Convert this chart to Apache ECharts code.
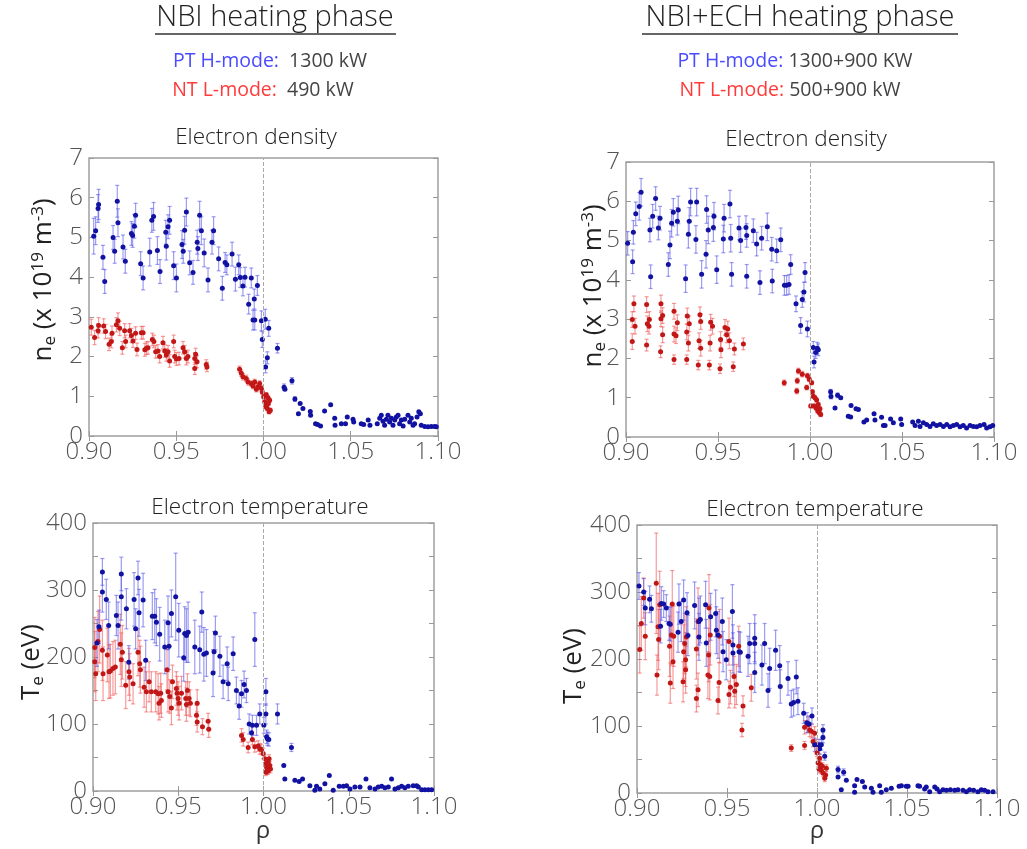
<!DOCTYPE html>
<html><head><meta charset="utf-8">
<script src="https://cdn.jsdelivr.net/npm/echarts@6/dist/echarts.min.js"></script>
<style>html,body{margin:0;padding:0;background:#fff}#c{width:1027px;height:849px}</style>
</head><body><div id="c"></div>
<script>
// ---- axis ticks ----
const xRange = [0.90, 1.10];
const xStep = 0.05;
const neRange = [0, 7];
const teRange = [0, 400];

// ---- texts ----
const phaseTitles = ['NBI heating phase', 'NBI+ECH heating phase'];
const ptPower = ['1300 kW', '1300+900 KW'];
const ntPower = ['490 kW', '500+900 kW'];
const panelTitles = ['Electron density', 'Electron temperature'];

// ---- data: [rho, value, error] ----
const neNbiPT = [[0.9027,5.03,0.45],[0.9038,5.17,0.35],[0.9052,5.73,0.35],[0.9055,5.83,0.38],[0.908,4.5,0.3],[0.909,3.89,0.3],[0.9138,5.0,0.3],[0.9147,4.65,0.3],[0.9162,5.91,0.4],[0.9166,5.37,0.35],[0.9195,4.76,0.3],[0.9208,4.4,0.3],[0.9243,5.1,0.3],[0.925,5.05,0.3],[0.926,5.28,0.3],[0.9267,5.56,0.3],[0.9296,4.34,0.3],[0.931,3.98,0.3],[0.9348,4.63,0.35],[0.936,5.43,0.3],[0.937,5.53,0.35],[0.9392,4.67,0.35],[0.9407,4.14,0.3],[0.944,5.13,0.3],[0.9443,4.78,0.35],[0.9453,5.27,0.3],[0.9462,5.43,0.35],[0.9485,4.29,0.35],[0.9501,3.98,0.35],[0.9533,4.82,0.35],[0.954,4.65,0.3],[0.9548,5.18,0.35],[0.9558,5.64,0.35],[0.9577,4.36,0.3],[0.9596,4.12,0.3],[0.962,4.88,0.3],[0.9624,4.72,0.3],[0.9634,5.56,0.35],[0.9644,5.17,0.35],[0.966,4.61,0.35],[0.9682,3.93,0.3],[0.9705,4.88,0.3],[0.9714,5.17,0.35],[0.9743,4.46,0.3],[0.9764,3.72,0.3],[0.978,4.37,0.25],[0.979,4.31,0.25],[0.982,4.58,0.3],[0.9839,3.95,0.3],[0.9858,4.31,0.25],[0.9867,3.99,0.25],[0.9882,3.78,0.25],[0.9894,4.0,0.25],[0.9915,3.32,0.25],[0.993,3.98,0.25],[0.994,2.92,0.25],[0.995,2.92,0.25],[0.9947,3.45,0.25],[0.9965,3.79,0.25],[0.9988,2.9,0.25],[0.9993,2.43,0.2],[1.001,2.94,0.25],[1.0012,1.74,0.15],[1.0022,1.97,0.15],[1.003,2.71,0.2],[1.008,2.21,0.12],[1.0118,1.23,0.08],[1.0123,1.18,0],[1.0163,1.39,0.08],[1.018,0.93,0.06],[1.02,0.56,0],[1.021,0.82,0],[1.0226,0.69,0],[1.0268,0.62,0],[1.027,0.52,0],[1.0298,0.31,0],[1.031,0.29,0],[1.0327,0.25,0],[1.035,0.63,0],[1.0385,0.79,0],[1.0408,0.45,0],[1.041,0.27,0],[1.0446,0.31,0],[1.047,0.31,0],[1.048,0.48,0],[1.0513,0.42,0],[1.0517,0.35,0],[1.056,0.31,0],[1.0574,0.29,0],[1.06,0.4,0],[1.061,0.27,0],[1.0652,0.31,0],[1.0666,0.45,0],[1.0675,0.52,0],[1.0685,0.37,0],[1.0694,0.27,0],[1.0704,0.42,0],[1.0713,0.52,0],[1.0723,0.35,0],[1.0733,0.45,0],[1.0742,0.27,0],[1.0752,0.4,0],[1.0761,0.48,0],[1.0771,0.52,0],[1.078,0.31,0],[1.079,0.4,0],[1.08,0.25,0],[1.0809,0.42,0],[1.0828,0.52,0],[1.0838,0.35,0],[1.0847,0.45,0],[1.0857,0.27,0],[1.0866,0.31,0],[1.088,0.48,0],[1.089,0.61,0],[1.0899,0.56,0],[1.0904,0.27,0],[1.0924,0.24,0],[1.0943,0.23,0],[1.0962,0.24,0],[1.0981,0.24,0],[1.099,0.23,0]];
const neNbiNT = [[0.9013,2.74,0.2],[0.9032,2.48,0.18],[0.9052,2.65,0.18],[0.9055,2.78,0.2],[0.9084,2.77,0.18],[0.9095,2.63,0.18],[0.9115,2.31,0.16],[0.9128,2.38,0.16],[0.9132,2.59,0.18],[0.9157,2.8,0.18],[0.9166,2.9,0.2],[0.9176,2.71,0.18],[0.9191,2.22,0.16],[0.9204,2.65,0.18],[0.921,2.38,0.16],[0.9233,2.65,0.18],[0.9243,2.53,0.18],[0.9252,2.39,0.16],[0.9267,2.59,0.16],[0.9275,2.18,0.16],[0.93,2.6,0.16],[0.931,2.6,0.16],[0.932,2.17,0.16],[0.9329,2.21,0.16],[0.9338,2.22,0.16],[0.9363,2.43,0.16],[0.9372,2.38,0.16],[0.9382,2.12,0.16],[0.9395,2.14,0.16],[0.9405,2.0,0.16],[0.9424,2.35,0.16],[0.9434,2.14,0.16],[0.9443,2.04,0.16],[0.9453,2.12,0.16],[0.9462,1.89,0.16],[0.9485,2.38,0.16],[0.9491,2.0,0.16],[0.9501,1.94,0.16],[0.9516,1.95,0.16],[0.9539,2.22,0.16],[0.9548,2.12,0.16],[0.9558,1.95,0.16],[0.9567,2.0,0.16],[0.9606,1.95,0.15],[0.9611,2.06,0.15],[0.9619,1.87,0.15],[0.9606,1.7,0.15],[0.9672,1.8,0.12],[0.9676,1.74,0.12],[0.9863,1.68,0.08],[0.9873,1.58,0.08],[0.9882,1.49,0.08],[0.9901,1.45,0.08],[0.9911,1.36,0.08],[0.993,1.32,0.07],[0.994,1.26,0.07],[0.995,1.36,0.07],[0.9959,1.18,0.07],[0.9969,1.24,0.07],[0.9978,1.32,0.07],[0.9988,1.2,0.07],[0.9993,1.11,0.06],[1.0001,0.99,0.06],[1.0007,0.86,0.06],[1.0011,0.78,0.06],[1.0016,0.73,0.05],[1.0022,0.69,0.05],[1.0028,0.82,0.05],[1.0032,0.61,0.05],[1.0035,0.9,0.05],[1.0039,0.65,0.05],[1.0026,0.96,0.05],[1.0016,1.04,0.05]];
const neEchPT = [[0.9009,4.93,0.3],[0.9036,4.46,0.3],[0.904,5.21,0.3],[0.9053,5.68,0.3],[0.9072,5.87,0.35],[0.9082,6.23,0.35],[0.913,5.27,0.3],[0.9134,4.08,0.3],[0.9145,5.62,0.3],[0.9161,6.07,0.3],[0.9176,5.32,0.3],[0.9185,5.57,0.3],[0.923,4.39,0.3],[0.9239,4.89,0.35],[0.9248,5.44,0.35],[0.9257,5.72,0.35],[0.9279,5.49,0.35],[0.9284,5.78,0.35],[0.9324,4.03,0.35],[0.9339,5.16,0.35],[0.9344,5.49,0.35],[0.9351,5.98,0.35],[0.938,5.03,0.35],[0.9384,5.98,0.35],[0.9411,4.14,0.35],[0.9435,4.65,0.35],[0.9438,5.79,0.35],[0.9447,5.27,0.35],[0.9475,5.33,0.35],[0.9478,5.62,0.35],[0.9493,4.26,0.35],[0.9529,5.04,0.35],[0.9533,5.57,0.35],[0.9565,5.93,0.35],[0.9569,5.06,0.35],[0.9574,4.14,0.3],[0.9614,5.32,0.3],[0.9623,5.0,0.3],[0.9652,5.33,0.3],[0.9656,5.13,0.3],[0.9656,4.09,0.3],[0.9692,5.25,0.3],[0.971,4.91,0.3],[0.9728,3.93,0.3],[0.9737,5.06,0.3],[0.9768,5.35,0.35],[0.9792,4.78,0.3],[0.9795,3.97,0.3],[0.9819,4.74,0.3],[0.9841,5.02,0.3],[0.9861,3.86,0.25],[0.9873,3.86,0.25],[0.9886,3.88,0.25],[0.9895,4.39,0.25],[0.9924,3.39,0.2],[0.9949,2.84,0.2],[0.9958,3.5,0.2],[0.9967,3.69,0.25],[0.9973,4.19,0.25],[0.9986,2.75,0.2],[1.0018,2.28,0.15],[1.0022,1.91,0.15],[1.0031,2.15,0.15],[1.004,2.26,0.15],[1.0045,2.22,0.15],[1.0112,1.15,0.06],[1.0114,1.03,0.06],[1.0136,0.74,0],[1.015,1.06,0.06],[1.0167,1.0,0],[1.0208,0.53,0],[1.0221,0.51,0],[1.0223,0.8,0],[1.025,0.72,0],[1.0263,0.7,0],[1.0293,0.38,0],[1.0308,0.43,0],[1.0348,0.59,0],[1.0353,0.43,0],[1.0389,0.5,0],[1.0399,0.29,0],[1.0408,0.29,0],[1.0438,0.46,0],[1.0453,0.36,0],[1.0493,0.46,0],[1.0498,0.32,0],[1.0558,0.38,0],[1.0571,0.29,0],[1.0589,0.4,0],[1.0598,0.27,0],[1.0616,0.36,0],[1.0634,0.32,0],[1.0652,0.27,0],[1.067,0.34,0],[1.0688,0.29,0],[1.0707,0.32,0],[1.0725,0.27,0],[1.0743,0.32,0],[1.0761,0.26,0],[1.0779,0.29,0],[1.0797,0.32,0],[1.0815,0.26,0],[1.0833,0.29,0],[1.0851,0.23,0],[1.087,0.29,0],[1.0888,0.27,0],[1.0906,0.26,0],[1.0924,0.29,0],[1.0946,0.32,0],[1.096,0.23,0],[1.0978,0.26,0],[1.0993,0.29,0]];
const neEchNT = [[0.9034,2.43,0.2],[0.9034,2.99,0.2],[0.9043,3.39,0.2],[0.9049,2.82,0.2],[0.9112,2.34,0.15],[0.9112,3.37,0.2],[0.9116,2.88,0.2],[0.9127,2.99,0.2],[0.9125,2.82,0.2],[0.9188,2.17,0.15],[0.919,3.39,0.22],[0.919,3.01,0.2],[0.9199,3.09,0.2],[0.9199,2.6,0.2],[0.9261,1.97,0.12],[0.9261,3.2,0.2],[0.9261,2.62,0.2],[0.9272,2.58,0.2],[0.9279,2.91,0.2],[0.933,1.97,0.12],[0.933,2.67,0.2],[0.9333,3.08,0.2],[0.9339,2.39,0.2],[0.9344,2.88,0.2],[0.9393,1.83,0.12],[0.9397,2.45,0.2],[0.9402,3.11,0.2],[0.9406,2.94,0.2],[0.9406,2.26,0.2],[0.9453,1.83,0.12],[0.9457,2.39,0.2],[0.946,2.92,0.2],[0.947,2.82,0.2],[0.9511,1.74,0.12],[0.9514,2.48,0.2],[0.9516,2.22,0.2],[0.9538,2.79,0.2],[0.9547,2.6,0.2],[0.9553,2.75,0.2],[0.9562,2.45,0.2],[0.9583,1.79,0.12],[0.9589,2.24,0.15],[0.9638,2.37,0.15],[0.986,1.38,0.07],[0.9928,1.17,0.07],[0.9931,1.43,0.07],[0.9937,1.68,0.07],[0.9958,1.6,0.07],[0.9982,1.26,0.06],[0.9986,1.56,0.06],[0.9996,1.47,0.06],[1.0004,0.79,0.05],[1.0009,1.38,0.05],[1.0013,1.15,0.05],[1.0018,1.04,0.05],[1.0022,0.79,0.05],[1.0027,1.0,0.05],[1.0033,0.74,0.05],[1.0036,0.94,0.05],[1.0042,0.66,0.05],[1.0045,0.83,0.05],[1.0051,0.62,0.05],[1.0054,0.72,0.05],[1.0058,0.57,0.05]];

const teNbiPT = [[0.9023,221,35],[0.9035,245,25],[0.9055,327,20],[0.9055,297,30],[0.9078,286,30],[0.9092,247,35],[0.9137,262,30],[0.9147,247,35],[0.9166,324,25],[0.9166,290,35],[0.9196,272,30],[0.921,192,25],[0.9241,286,40],[0.925,242,30],[0.9264,318,25],[0.927,266,35],[0.9294,285,40],[0.9309,195,30],[0.9348,261,35],[0.9362,261,40],[0.9372,252,35],[0.9391,234,40],[0.9421,215,40],[0.944,251,40],[0.9446,216,35],[0.946,265,35],[0.9485,290,65],[0.9503,240,40],[0.9532,199,35],[0.9538,235,40],[0.9548,232,40],[0.9558,237,45],[0.9597,215,40],[0.9626,211,35],[0.9638,267,30],[0.965,204,40],[0.9665,206,35],[0.9704,176,35],[0.971,208,30],[0.9718,236,25],[0.9744,201,30],[0.9763,163,25],[0.9787,190,25],[0.9793,160,25],[0.9822,205,25],[0.9841,150,20],[0.9857,127,20],[0.9871,145,20],[0.9886,159,20],[0.99,150,18],[0.9916,100,15],[0.993,87,12],[0.9935,98,15],[0.9949,226,40],[0.9959,98,15],[0.9978,115,15],[1.0002,98,12],[1.0014,148,20],[1.0014,115,15],[1.0018,81,10],[1.0023,78,10],[1.0031,77,10],[1.0082,115,15],[1.0164,65,6],[1.0119,38,0],[1.0125,18,0],[1.0184,16,0],[1.0209,14,0],[1.0229,18,0],[1.0272,8,0],[1.0301,1,0],[1.0311,7,0],[1.033,3,0],[1.036,11,0],[1.0386,23,0],[1.0409,1,0],[1.0444,7,0],[1.0468,7,0],[1.0487,8,0],[1.0507,3,0],[1.0536,6,0],[1.0566,6,0],[1.0601,18,0],[1.0624,5,0],[1.0654,3,0],[1.0673,6,0],[1.0693,7,0],[1.0712,5,0],[1.0732,6,0],[1.0751,18,0],[1.0771,3,0],[1.0791,5,0],[1.081,7,0],[1.0829,5,0],[1.0849,7,0],[1.0878,8,0],[1.0898,8,0],[1.0908,6,0],[1.0928,2,0],[1.0947,2,0],[1.0967,2,0],[1.0986,2,0]];
const teNbiNT = [[0.901,214,45],[0.901,193,45],[0.9016,175,40],[0.9029,223,45],[0.9039,241,50],[0.9055,210,45],[0.9059,175,40],[0.9084,203,40],[0.9094,178,40],[0.9102,179,40],[0.9117,183,40],[0.9131,185,40],[0.916,219,45],[0.9172,207,40],[0.9166,196,40],[0.9192,158,35],[0.9211,178,35],[0.9215,170,35],[0.9235,160,30],[0.9264,207,35],[0.9274,190,35],[0.9278,181,35],[0.93,155,30],[0.9313,148,30],[0.9329,163,30],[0.9342,148,30],[0.9368,148,30],[0.9382,145,30],[0.9387,131,25],[0.9397,146,30],[0.9401,135,25],[0.9434,181,30],[0.944,148,30],[0.945,141,25],[0.946,124,25],[0.9466,163,25],[0.9489,153,25],[0.9493,146,25],[0.9499,138,25],[0.9505,131,25],[0.9519,146,25],[0.9544,138,25],[0.9548,129,25],[0.9554,150,25],[0.9564,138,25],[0.9571,131,20],[0.9611,131,20],[0.9607,113,15],[0.9611,103,15],[0.9642,96,12],[0.9675,104,12],[0.9679,92,12],[0.9871,83,10],[0.9881,77,10],[0.991,65,8],[0.9935,77,8],[0.9949,66,8],[0.9969,67,8],[0.9978,63,8],[0.9988,62,8],[0.9998,56,8],[1.0008,48,6],[1.0014,41,6],[1.0018,36,6],[1.0022,31,6],[1.0027,43,6],[1.0033,48,6],[1.0037,38,6],[1.0041,33,6],[1.0014,28,5],[1.0027,30,5]];
const teEchPT = [[0.9011,309,20],[0.9037,300,20],[0.9046,276,25],[0.907,289,20],[0.908,275,20],[0.9131,249,25],[0.9135,283,25],[0.9148,282,20],[0.9163,276,20],[0.9178,253,25],[0.9185,252,25],[0.9228,240,30],[0.9233,282,30],[0.9246,256,30],[0.9259,288,30],[0.9278,269,30],[0.9283,235,30],[0.932,280,35],[0.9344,256,35],[0.9344,233,35],[0.9352,259,35],[0.9381,281,35],[0.9385,224,35],[0.9409,263,35],[0.9437,268,35],[0.9441,243,35],[0.945,236,35],[0.9474,256,35],[0.9478,211,30],[0.9496,199,30],[0.953,271,40],[0.9533,209,30],[0.9533,221,30],[0.9567,211,30],[0.9574,210,30],[0.9617,204,30],[0.9626,223,30],[0.9654,231,35],[0.9654,180,30],[0.9654,223,30],[0.9694,191,30],[0.9709,223,30],[0.9728,153,25],[0.9737,186,30],[0.977,213,30],[0.9793,190,30],[0.9796,159,25],[0.9839,171,25],[0.9857,133,20],[0.987,135,20],[0.9885,173,25],[0.9894,137,20],[0.9926,119,15],[0.9944,105,15],[0.9956,103,12],[0.9972,115,12],[0.9987,72,10],[1.0011,72,8],[1.0015,66,8],[1.0024,72,8],[1.0033,94,8],[1.0033,83,8],[1.0043,55,6],[1.0117,35,5],[1.0117,24,0],[1.0135,5,0],[1.0148,31,5],[1.0163,19,0],[1.0209,11,0],[1.0209,1,0],[1.0222,20,0],[1.0252,17,0],[1.0265,9,0],[1.0302,7,0],[1.0311,1,0],[1.0348,11,0],[1.0357,1,0],[1.0385,5,0],[1.0413,7,0],[1.0456,10,0],[1.0469,11,0],[1.0496,10,0],[1.0506,10,0],[1.0561,11,0],[1.057,10,0],[1.0598,6,0],[1.0607,9,0],[1.0626,2,0],[1.0654,9,0],[1.0667,6,0],[1.0681,2,0],[1.07,5,0],[1.0719,4,0],[1.0741,5,0],[1.0765,4,0],[1.0783,5,0],[1.0811,4,0],[1.083,2,0],[1.0848,5,0],[1.087,4,0],[1.0894,2,0],[1.0913,5,0],[1.0931,4,0],[1.095,2,0],[1.0978,2,0]];
const teEchNT = [[0.9015,214,35],[0.9024,253,40],[0.9037,291,30],[0.9046,234,35],[0.9107,313,75],[0.9111,176,30],[0.9117,248,50],[0.912,229,45],[0.9126,281,50],[0.9181,219,45],[0.9185,164,30],[0.9191,236,45],[0.9196,282,50],[0.92,196,40],[0.9204,234,45],[0.9256,166,30],[0.9259,211,40],[0.9265,223,45],[0.927,199,40],[0.927,184,35],[0.9274,233,45],[0.933,141,20],[0.933,215,45],[0.9339,154,25],[0.9339,256,50],[0.9394,176,35],[0.9398,206,40],[0.94,276,50],[0.9407,236,45],[0.9404,174,35],[0.945,138,20],[0.9456,165,30],[0.9459,234,40],[0.9511,226,35],[0.9511,147,20],[0.9519,158,25],[0.9539,174,30],[0.9543,152,25],[0.9552,162,30],[0.9565,219,30],[0.9583,94,10],[0.9589,130,15],[0.9635,157,20],[0.9857,67,5],[0.9931,71,6],[0.9931,98,10],[0.995,102,12],[0.9959,94,10],[0.9969,92,10],[0.9987,89,10],[0.9978,77,8],[0.9996,72,8],[1.0,60,6],[1.0006,45,6],[1.0011,36,6],[1.0015,52,6],[1.0019,42,6],[1.0024,34,5],[1.003,40,5],[1.0033,30,5],[1.0043,22,5],[1.0048,27,5],[1.0052,37,5]];

// ---- styles ----
const FONT = "'Open Sans', 'Noto Sans', sans-serif";
const TXT = '#444';
const BLUE_PT = '#1212a2', BLUE_ERR = 'rgba(90,90,235,0.6)';
const RED_PT = '#c21717', RED_ERR = 'rgba(240,90,90,0.6)';

const grids = [
  {left: 89, top: 158, width: 349, height: 278},
  {left: 626, top: 162, width: 368, height: 275},
  {left: 93, top: 523, width: 341, height: 268},
  {left: 637, top: 525, width: 360, height: 268}
];
const panels = [
  {pt: neNbiPT, nt: neNbiNT, y: neRange, yi: 1, lab: 1},
  {pt: neEchPT, nt: neEchNT, y: neRange, yi: 1, lab: 1},
  {pt: teNbiPT, nt: teNbiNT, y: teRange, yi: 50, lab: 100},
  {pt: teEchPT, nt: teEchNT, y: teRange, yi: 50, lab: 100}
];

function errRender(params, api) {
  const x = api.value(0), y = api.value(1), e = api.value(2);
  if (!e) return {type: 'group', children: []};
  const lo = api.coord([x, y - e]), hi = api.coord([x, y + e]);
  const c = 2;
  const style = {stroke: api.visual('color'), lineWidth: 1.2};
  return {type: 'group', children: [
    {type: 'line', shape: {x1: lo[0], y1: lo[1], x2: hi[0], y2: hi[1]}, style},
    {type: 'line', shape: {x1: lo[0]-c, y1: lo[1], x2: lo[0]+c, y2: lo[1]}, style},
    {type: 'line', shape: {x1: hi[0]-c, y1: hi[1], x2: hi[0]+c, y2: hi[1]}, style}
  ]};
}

const xAxes = [], yAxes = [], series = [];
panels.forEach((p, g) => {
  const tick = {show: true, inside: true, length: 5, lineStyle: {color: '#999', width: 1}};
  xAxes.push({gridIndex: g, type: 'value', min: xRange[0], max: xRange[1], interval: xStep,
    axisLine: {show: false}, axisTick: tick, splitLine: {show: false},
    axisLabel: {color: '#555', fontSize: 24, fontWeight: 300, fontFamily: FONT, margin: 4, formatter: v => v.toFixed(2)}});
  xAxes.push({gridIndex: g, type: 'value', position: 'top', min: xRange[0], max: xRange[1], interval: xStep,
    axisLine: {show: false}, axisTick: tick, splitLine: {show: false}, axisLabel: {show: false}});
  yAxes.push({gridIndex: g, type: 'value', min: p.y[0], max: p.y[1], interval: p.yi,
    axisLine: {show: false}, axisTick: tick, splitLine: {show: false},
    axisLabel: {color: '#555', fontSize: 24, fontWeight: 300, fontFamily: FONT, margin: 6,
      formatter: v => (Math.round(v) % p.lab === 0 ? String(Math.round(v)) : '')}});
  yAxes.push({gridIndex: g, type: 'value', position: 'right', min: p.y[0], max: p.y[1], interval: p.yi,
    axisLine: {show: false}, axisTick: tick, splitLine: {show: false}, axisLabel: {show: false}});
  const xi = 2*g, yi = 2*g;
  series.push({type: 'custom', xAxisIndex: xi, yAxisIndex: yi, renderItem: errRender, clip: true,
    itemStyle: {color: RED_ERR}, encode: {x: 0, y: 1}, data: p.nt, silent: true, z: 2});
  series.push({type: 'custom', xAxisIndex: xi, yAxisIndex: yi, renderItem: errRender, clip: true,
    itemStyle: {color: BLUE_ERR}, encode: {x: 0, y: 1}, data: p.pt, silent: true, z: 2});
  series.push({type: 'scatter', xAxisIndex: xi, yAxisIndex: yi, symbolSize: 5, clip: true,
    itemStyle: {color: RED_PT, opacity: 1}, data: p.nt.map(d => [d[0], d[1]]), z: 3,
    markLine: {silent: true, symbol: 'none', label: {show: false},
      lineStyle: {color: '#aaa', type: 'dashed', width: 1}, data: [{xAxis: 1.0}]}});
  series.push({type: 'scatter', xAxisIndex: xi, yAxisIndex: yi, symbolSize: 5, clip: true,
    itemStyle: {color: BLUE_PT, opacity: 1}, data: p.pt.map(d => [d[0], d[1]]), z: 4});
});

function txt(x, y, text, size, extra, weight) {
  return {type: 'text', x, y, style: Object.assign({text, fill: TXT,
    font: (weight || 'normal') + ' ' + size + 'px ' + FONT, align: 'center', verticalAlign: 'middle',
    textAlign: 'center', textVerticalAlign: 'middle'}, extra || {})};
}
const rich = (size) => ({
  b: {fill: '#4a4aff', color: '#4a4aff', fontSize: size, fontFamily: FONT},
  r: {fill: '#ff3a3a', color: '#ff3a3a', fontSize: size, fontFamily: FONT},
  g: {fill: '#444', color: '#444', fontSize: size, fontFamily: FONT}
});
const yNameRich = {
  a: {fontSize: 26, fontFamily: FONT, color: '#222', fill: '#222'},
  s: {fontSize: 17, fontFamily: FONT, color: '#222', fill: '#222', verticalAlign: 'bottom', padding: [12, 0, 0, 0]},
  p: {fontSize: 17, fontFamily: FONT, color: '#222', fill: '#222', verticalAlign: 'top', padding: [0, 0, 12, 0]}
};

const graphic = [
  txt(275, 18, phaseTitles[0], 29, {fill: '#222'}, 300),
  {type: 'line', shape: {x1: 155, y1: 34, x2: 396, y2: 34}, style: {stroke: '#333', lineWidth: 1.5}},
  txt(800, 18, phaseTitles[1], 29, {fill: '#222'}, 300),
  {type: 'line', shape: {x1: 642, y1: 34, x2: 958, y2: 34}, style: {stroke: '#333', lineWidth: 1.5}},
  txt(270, 61, '{b|PT H-mode:}{g|  ' + ptPower[0] + '}', 19.5, {rich: rich(19.5)}),
  txt(263, 90, '{r|NT L-mode:}{g|  ' + ntPower[0] + '}', 19.5, {rich: rich(19.5)}),
  txt(795, 61, '{b|PT H-mode:}{g| ' + ptPower[1] + '}', 19.5, {rich: rich(19.5)}),
  txt(790, 90, '{r|NT L-mode:}{g| ' + ntPower[1] + '}', 19.5, {rich: rich(19.5)}),
  txt(256, 138, panelTitles[0], 22.5, {fill: '#222'}, 300),
  txt(806, 140, panelTitles[0], 22.5, {fill: '#222'}, 300),
  txt(260, 508, panelTitles[1], 22.5, {fill: '#222'}, 300),
  txt(815, 510, panelTitles[1], 22.5, {fill: '#222'}, 300),
  txt(263, 831, 'ρ', 24, {fill: '#333'}),
  txt(817, 831, 'ρ', 24, {fill: '#333'}),
  Object.assign(txt(44, 280, '{a|n}{s|e}{a| (x 10}{p|19}{a| m}{p|-3}{a|)}', 26, {rich: yNameRich}), {rotation: Math.PI/2}),
  Object.assign(txt(594, 286, '{a|n}{s|e}{a| (x 10}{p|19}{a| m}{p|-3}{a|)}', 26, {rich: yNameRich}), {rotation: Math.PI/2}),
  Object.assign(txt(32, 662, '{a|T}{s|e}{a| (eV)}', 26, {rich: yNameRich}), {rotation: Math.PI/2}),
  Object.assign(txt(574, 666, '{a|T}{s|e}{a| (eV)}', 26, {rich: yNameRich}), {rotation: Math.PI/2})
];

const chart = echarts.init(document.getElementById('c'), null, {renderer: 'canvas'});
chart.setOption({
  animation: false,
  backgroundColor: '#fff',
  grid: grids.map(g => Object.assign({show: true, borderColor: '#a0a0a0', borderWidth: 1.5, backgroundColor: 'transparent'}, g)),
  xAxis: xAxes, yAxis: yAxes, series, graphic
});
</script></body></html>
